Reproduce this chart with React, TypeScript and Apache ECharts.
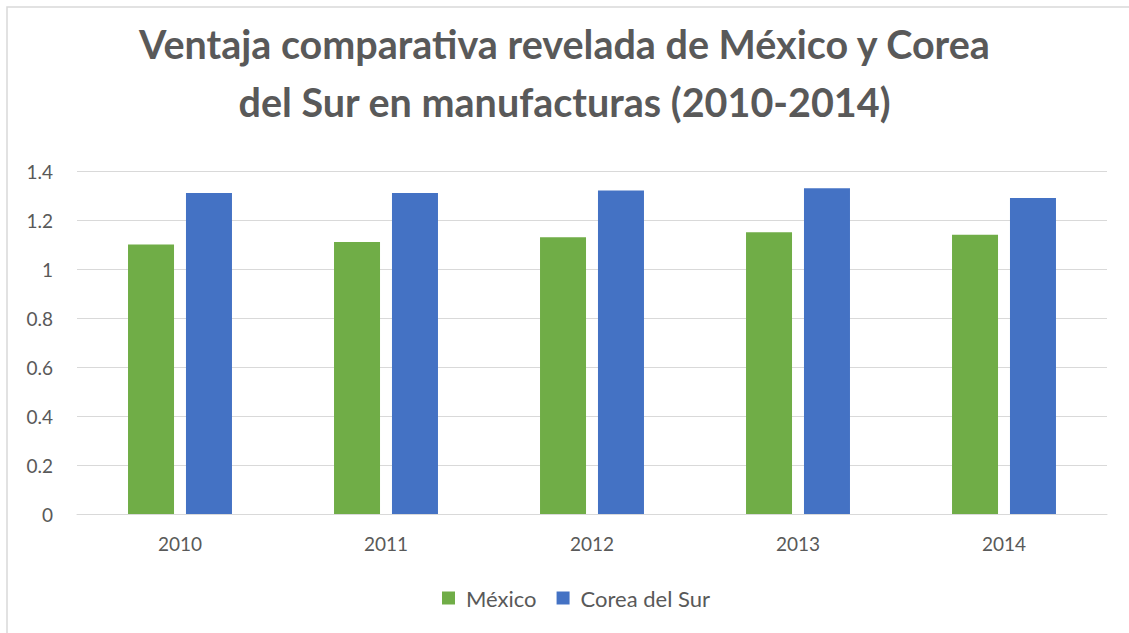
import React, { useEffect, useRef } from "react";
import * as echarts from "echarts";

const years = ["2010", "2011", "2012", "2013", "2014"];
const mexico = [1.1, 1.11, 1.13, 1.15, 1.14];
const corea = [1.31, 1.31, 1.32, 1.33, 1.29];
const seriesNames = ["México", "Corea del Sur"];
const titleText = "Ventaja comparativa revelada de México y Corea\ndel Sur en manufacturas (2010-2014)";

export default function App() {
  const ref = useRef<HTMLDivElement>(null);
  useEffect(() => {
    const chart = echarts.init(ref.current!, null, { renderer: "svg" });
    const font = "Lato, 'Open Sans', sans-serif";
    chart.setOption({
      animation: false,
      backgroundColor: "#ffffff",
      textStyle: { fontFamily: font },
      graphic: [
        {
          type: "rect",
          shape: { x: 7, y: 7, width: 1140, height: 660 },
          style: { fill: "none", stroke: "#D9D9D9", lineWidth: 1.5 },
          silent: true,
        },
      ],
      title: {
        text: titleText,
        left: "center",
        top: 9,
        textStyle: {
          fontFamily: font,
          fontSize: 39.5,
          fontWeight: "bold",
          color: "#595959",
          lineHeight: 58,
        },
      },
      legend: {
        bottom: 19,
        left: 437,
        itemWidth: 13,
        itemHeight: 13,
        itemGap: 20,
        icon: "rect",
        textStyle: { fontFamily: font, fontSize: 22, color: "#595959", padding: [0, 0, 0, 6] },
        data: seriesNames,
      },
      grid: { left: 77, right: 22, top: 171, bottom: 119, containLabel: false },
      xAxis: {
        type: "category",
        data: years,
        axisLine: { lineStyle: { color: "#D9D9D9", width: 1 } },
        axisTick: { show: false },
        axisLabel: { fontFamily: font, fontSize: 19, color: "#595959", margin: 20 },
      },
      yAxis: {
        type: "value",
        min: 0,
        max: 1.4,
        interval: 0.2,
        axisLine: { show: false },
        axisTick: { show: false },
        splitLine: { lineStyle: { color: "#D9D9D9", width: 1 } },
        axisLabel: {
          fontFamily: font,
          fontSize: 19,
          color: "#595959",
          margin: 24,
          formatter: (v: number) => String(Math.round(v * 10) / 10),
        },
      },
      series: [
        {
          name: seriesNames[0],
          type: "bar",
          data: mexico,
          barWidth: 46,
          barGap: "26%",
          itemStyle: { color: "#70AD47" },
        },
        {
          name: seriesNames[1],
          type: "bar",
          data: corea,
          barWidth: 46,
          itemStyle: { color: "#4472C4" },
        },
      ],
    });
    return () => chart.dispose();
  }, []);
  return (
    <div
      ref={ref}
      style={{ position: "absolute", left: 0, top: 0, width: 1129, height: 633 }}
    />
  );
}
